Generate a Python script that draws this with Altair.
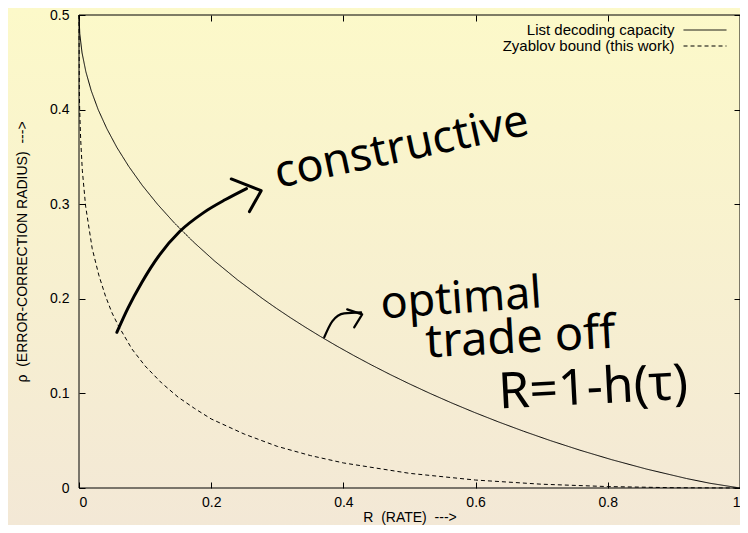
import altair as alt
import pandas as pd

# ---- data ----
series_names = ["List decoding capacity", "Zyablov bound (this work)"]

R_cap = [0.0, 0.0012, 0.0046, 0.0104, 0.0185, 0.029, 0.042, 0.0573, 0.0752, 0.0956,
         0.1187, 0.1445, 0.1733, 0.205, 0.2398, 0.2781, 0.2985, 0.3199, 0.3423, 0.3657,
         0.3902, 0.4158, 0.4426, 0.4706, 0.5001, 0.531, 0.5635, 0.5978, 0.6341, 0.6726,
         0.7136, 0.7577, 0.8056, 0.8586, 0.9192, 0.9546, 1.0]
rho_cap = [0.5, 0.48, 0.46, 0.44, 0.42, 0.40, 0.38, 0.36, 0.34, 0.32,
           0.30, 0.28, 0.26, 0.24, 0.22, 0.20, 0.19, 0.18, 0.17, 0.16,
           0.15, 0.14, 0.13, 0.12, 0.11, 0.10, 0.09, 0.08, 0.07, 0.06,
           0.05, 0.04, 0.03, 0.02, 0.01, 0.005, 0.0]

R_zy = [0.0, 0.0005, 0.001, 0.0025, 0.005, 0.01, 0.02, 0.03, 0.04, 0.05, 0.06, 0.08,
        0.10, 0.125, 0.15, 0.175, 0.2, 0.25, 0.3, 0.35, 0.4, 0.5, 0.6, 0.7, 0.8, 0.9, 1.0]
rho_zy = [0.5, 0.42, 0.40, 0.369, 0.336, 0.298, 0.253, 0.225, 0.203, 0.185, 0.171, 0.147,
          0.129, 0.111, 0.096, 0.084, 0.073, 0.057, 0.044, 0.0343, 0.0265, 0.0155, 0.0084,
          0.004, 0.0015, 0.0003, 0.0]

x_ticks = [0, 0.2, 0.4, 0.6, 0.8, 1]
y_ticks = [0, 0.1, 0.2, 0.3, 0.4, 0.5]

# hand-drawn annotations (data coordinates)
con_shaft_R = [0.0573, 0.0739, 0.0950, 0.1222, 0.1523, 0.1885, 0.2217, 0.2534]
con_shaft_rho = [0.1646, 0.1899, 0.2173, 0.2468, 0.2711, 0.2911, 0.3049, 0.3165]
con_head_R = [0.2303, 0.2756, 0.2579]
con_head_rho = [0.3267, 0.3143, 0.2922]
opt_shaft_R = [0.371, 0.3831, 0.4012, 0.4268]
opt_shaft_rho = [0.1593, 0.1762, 0.1846, 0.1857]
opt_head_R = [0.4057, 0.4284, 0.4163]
opt_head_rho = [0.1888, 0.1835, 0.1698]

note_text = ["constructive", "optimal", "trade off", "R=1-h(\u03c4)"]
note_R = [0.488, 0.578, 0.668, 0.778]
note_rho = [0.360, 0.200, 0.158, 0.105]
note_angle = [348, 356, 357, 357]
note_size = [45, 45, 47, 50]

# ---- build ----
W, H = 661, 473
PAD = {"left": 71, "top": 7, "right": 0, "bottom": 37}
FONT = "Liberation Sans"
FS = 14

curves = pd.DataFrame({
    "R": R_cap + R_zy,
    "rho": rho_cap + rho_zy,
    "series": [series_names[0]] * len(R_cap) + [series_names[1]] * len(R_zy),
    "ord": list(range(len(R_cap))) + list(range(len(R_zy))),
})

xs = alt.Scale(domain=[0, 1], nice=False)
ys = alt.Scale(domain=[0, 0.5], nice=False)

common = dict(domain=False, grid=False, tickSize=6, offset=-6, tickColor="black",
              tickWidth=1, labelColor="black", labelFont=FONT, labelFontSize=FS,
              titleFont=FONT, titleFontSize=FS, titleFontWeight="normal", titleColor="black",
              zindex=1)

x_axis = alt.Axis(values=x_ticks, format="~g", labelPadding=7, orient="bottom",
                  title="R\u00a0 (RATE)\u00a0 --->", titlePadding=1, **common)
y_axis = alt.Axis(values=y_ticks, format="~g", labelPadding=10, orient="left",
                  title="\u03c1\u00a0 (ERROR-CORRECTION RADIUS)\u00a0 --->", titlePadding=20, **common)

bg = alt.Chart(pd.DataFrame({"a": [0]})).mark_rect(
    fill=alt.Gradient(gradient="linear",
                      stops=[alt.GradientStop(color="#fcf9c9", offset=0),
                             alt.GradientStop(color="#f3e8d6", offset=1)],
                      x1=0, x2=0, y1=0, y2=1),
).encode(x=alt.value(-PAD["left"]), x2=alt.value(W + 10),
         y=alt.value(-PAD["top"]), y2=alt.value(H + PAD["bottom"]))

border = alt.Chart(pd.DataFrame({"a": [0]})).mark_rect(
    fillOpacity=0, stroke="black", strokeWidth=1,
).encode(x=alt.value(0), x2=alt.value(W), y=alt.value(0), y2=alt.value(H))

lines = alt.Chart(curves).mark_line(color="black", strokeWidth=1).encode(
    x=alt.X("R:Q", scale=xs, axis=x_axis),
    y=alt.Y("rho:Q", scale=ys, axis=y_axis),
    strokeDash=alt.StrokeDash(
        "series:N",
        scale=alt.Scale(domain=series_names, range=[[1, 0], [4, 3]]),
        legend=alt.Legend(title=None, orient="none", legendX=618, legendY=7, padding=0,
                          symbolType="M-3,0H3", symbolSize=205, symbolStrokeWidth=1,
                          symbolStrokeColor="black", labelAlign="right",
                          labelOffset={"expr": "-38.6"},
                          labelFont=FONT, labelFontSize=15, labelColor="black",
                          rowPadding=0, labelLimit=400, zindex=1),
    ),
    order="ord:Q",
)

frame_common = dict(domain=False, grid=False, labels=False, tickSize=6, offset=-6,
                    tickColor="black", tickWidth=1, zindex=1)
frame = alt.Chart(curves).mark_line(opacity=0).encode(
    x=alt.X("R:Q", scale=xs, title=None,
            axis=alt.Axis(values=x_ticks, orient="top", **frame_common)),
    y=alt.Y("rho:Q", scale=ys, title=None,
            axis=alt.Axis(values=y_ticks, orient="right", **frame_common)),
    detail="series:N",
)

def arrow_df(Rs, rhos):
    return pd.DataFrame({"R": Rs, "rho": rhos, "i": list(range(len(Rs)))})

def arrow_part(Rs, rhos, width, interp):
    return alt.Chart(arrow_df(Rs, rhos)).mark_line(
        color="black", strokeWidth=width, strokeCap="round", strokeJoin="round",
        interpolate=interp,
    ).encode(
        x=alt.X("R:Q", scale=xs, axis=None),
        y=alt.Y("rho:Q", scale=ys, axis=None),
        order="i:Q",
    )

a1 = arrow_part(con_shaft_R, con_shaft_rho, 3, "monotone")
a2 = arrow_part(con_head_R, con_head_rho, 3, "linear")
a3 = arrow_part(opt_shaft_R, opt_shaft_rho, 2.2, "monotone")
a4 = arrow_part(opt_head_R, opt_head_rho, 2.2, "linear")

notes = alt.Chart(pd.DataFrame({"t": note_text, "R": note_R, "rho": note_rho,
                                "ang": note_angle, "fs": note_size})).mark_text(
    font="Noto Sans", color="black", align="center", baseline="middle",
).encode(
    x=alt.X("R:Q", scale=xs, axis=None),
    y=alt.Y("rho:Q", scale=ys, axis=None),
    text="t:N",
    angle=alt.Angle("ang:Q", scale=None),
    size=alt.Size("fs:Q", scale=None),
)

chart = alt.layer(bg, border, lines, frame, a1, a2, a3, a4, notes).resolve_axis(
    x="independent", y="independent"
).properties(
    width=W, height=H,
    padding=PAD,
    autosize="none",
    background="#f7f0d0",
).configure_view(stroke=None)

chart.save("out.html", embed_options={"renderer": "svg", "actions": False})
